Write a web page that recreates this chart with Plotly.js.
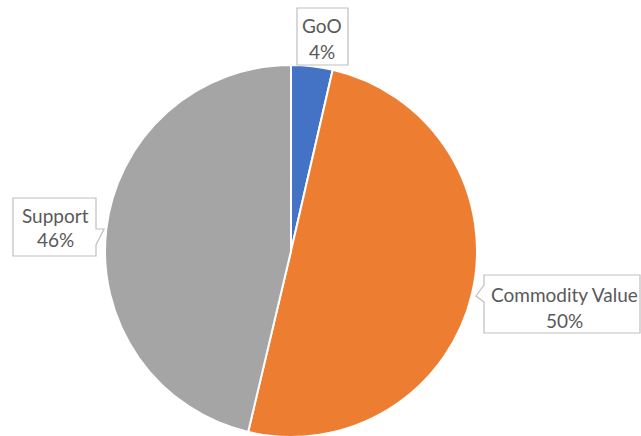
<!DOCTYPE html>
<html>
<head>
<meta charset="utf-8">
<script src="https://cdn.plot.ly/plotly-3.0.1.min.js"></script>
<style>
html,body{margin:0;padding:0;overflow:hidden;background:#fff;}
#chart{width:641px;height:440px;}
</style>
</head>
<body>
<div id="chart"></div>
<script>
// Data
const categories = ["GoO", "Commodity Value", "Support"];
const values = [3.6, 50.1, 46.3];
const colors = ["#4472C4", "#ED7D31", "#A5A5A5"];

const W = 641, H = 440;
const px = x => x / W;
const py = y => 1 - y / H;

const total = values.reduce((a, b) => a + b, 0);
const pctText = values.map(v => Math.round(v / total * 100) + "%");

// label box layouts (pixel positions of callouts)
const boxes = [
  {x0: 297, x1: 348, y0: 8, y1: 65, cx: 322, ny: 26, py: 51, ptr: null},
  {x0: 484, x1: 640, y0: 275, y1: 333, cx: 564, ny: 294, py: 320, ptr: "left", p: [[484, 285], [476, 296], [484, 302]]},
  {x0: 13, x1: 96, y0: 198, y1: 256, cx: 55, ny: 215, py: 240, ptr: "right", p: [[96, 229], [104, 229], [96, 245]]}
];

function boxPath(b) {
  const P = (x, y) => px(x).toFixed(5) + "," + py(y).toFixed(5);
  let d = "M" + P(b.x0, b.y0) + " L" + P(b.x1, b.y0);
  if (b.ptr === "right") {
    d += " L" + P(b.p[0][0], b.p[0][1]) + " L" + P(b.p[1][0], b.p[1][1]) + " L" + P(b.p[2][0], b.p[2][1]);
  }
  d += " L" + P(b.x1, b.y1) + " L" + P(b.x0, b.y1);
  if (b.ptr === "left") {
    d += " L" + P(b.p[2][0], b.p[2][1]) + " L" + P(b.p[1][0], b.p[1][1]) + " L" + P(b.p[0][0], b.p[0][1]);
  }
  d += " Z";
  return d;
}

const shapes = boxes.map(b => ({
  type: "path", xref: "paper", yref: "paper", path: boxPath(b),
  line: {color: "#BFBFBF", width: 1.2}, fillcolor: "#FFFFFF", layer: "above"
}));

const font = {family: "Lato, 'Open Sans', sans-serif", size: 19, color: "#595959"};
const annotations = [];
boxes.forEach((b, i) => {
  annotations.push({xref: "paper", yref: "paper", x: px(b.cx), y: py(b.ny), text: categories[i],
    showarrow: false, xanchor: "center", yanchor: "middle", font: font});
  annotations.push({xref: "paper", yref: "paper", x: px(b.cx), y: py(b.py), text: pctText[i],
    showarrow: false, xanchor: "center", yanchor: "middle", font: font});
});

const trace = {
  type: "pie",
  labels: categories,
  values: values,
  sort: false,
  direction: "clockwise",
  rotation: 0,
  textinfo: "none",
  hoverinfo: "label+percent",
  marker: {colors: colors, line: {color: "#FFFFFF", width: 2}},
  domain: {x: [px(105), px(477)], y: [py(437), py(65)]}
};

const layout = {
  width: W, height: H,
  margin: {l: 0, r: 0, t: 0, b: 0},
  showlegend: false,
  paper_bgcolor: "#FFFFFF",
  shapes: shapes,
  annotations: annotations
};

Plotly.newPlot("chart", [trace], layout, {displayModeBar: false, staticPlot: true});
</script>
</body>
</html>
